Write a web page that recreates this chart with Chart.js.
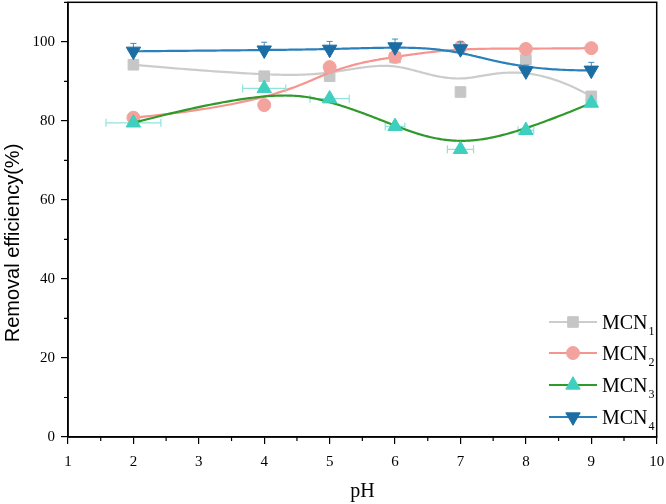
<!DOCTYPE html>
<html>
<head>
<meta charset="utf-8">
<script src="https://cdn.jsdelivr.net/npm/chart.js@4.4.0/dist/chart.umd.min.js"></script>
<style>
  html, body { margin: 0; padding: 0; background: #fff; }
  #outer { position: relative; width: 666px; height: 504px; overflow: hidden; }
  #wrap { position: absolute; left: 0; top: -7px; width: 666px; height: 511px; }
</style>
</head>
<body>
<div id="outer"><div id="wrap"><canvas id="chart"></canvas></div></div>
<script>
// ── Data ─────────────────────────────────────────────────────────────────
const pH     = [2, 4, 5, 6, 7, 8, 9];
const mcn1   = [94.2, 91.3, 91.3, 96.0, 87.3, 95.5, 86.2];
const mcn2   = [80.8, 84.0, 93.6, 96.2, 98.6, 98.2, 98.4];
const mcn3   = [79.5, 88.2, 85.6, 78.6, 72.8, 77.6, 84.5];
const mcn4   = [97.6, 97.9, 98.1, 98.7, 98.2, 92.6, 92.8];
const mcn3XErr = [0.42, 0.33, 0.3, 0.15, 0.2, 0.12, 0.08];
const mcn4YErr = [2, 2, 2, 2, 1.8, 1.5, 2];
const xTicks = [1, 2, 3, 4, 5, 6, 7, 8, 9, 10];
const yTicks = [0, 20, 40, 60, 80, 100];
const seriesNames = ['MCN', 'MCN', 'MCN', 'MCN'];
const seriesSubs  = ['1', '2', '3', '4'];

const SERIF = '"Liberation Serif", "DejaVu Serif", serif';
const SANS  = '"Liberation Sans", Arial, sans-serif';

const styles = [
  { marker: '#c6c6c6', line: '#cccccc', style: 'rect',     r: 7.5, rot: 0 },
  { marker: '#f2a39d', line: '#f7948f', style: 'circle',   r: 6.5, rot: 0 },
  { marker: '#3ecfbe', line: '#2f9a2c', style: 'triangle', r: 8.3, rot: 0 },
  { marker: '#1b6da3', line: '#2a80ba', style: 'triangle', r: 8.3, rot: 180 }
];
const allSeries = [mcn1, mcn2, mcn3, mcn4];

// clamped cubic B-spline through the data pixels (Origin "B-Spline" look)
function bspline(pts, samples) {
  const n = pts.length - 1, p = 3;
  const knots = [];
  for (let i = 0; i <= p; i++) knots.push(0);
  for (let i = 1; i <= n - p; i++) knots.push(i);
  for (let i = 0; i <= p; i++) knots.push(n - p + 1);
  const tmax = n - p + 1;
  const out = [];
  for (let s = 0; s <= samples; s++) {
    const u = tmax * s / samples;
    let k = p;
    while (k < n && u >= knots[k + 1]) k++;
    const d = [];
    for (let j = 0; j <= p; j++) d.push({ x: pts[j + k - p].x, y: pts[j + k - p].y });
    for (let r = 1; r <= p; r++) {
      for (let j = p; j >= r; j--) {
        const den = knots[j + 1 + k - r] - knots[j + k - p];
        const a = den === 0 ? 0 : (u - knots[j + k - p]) / den;
        d[j] = { x: (1 - a) * d[j - 1].x + a * d[j].x, y: (1 - a) * d[j - 1].y + a * d[j].y };
      }
    }
    out.push(d[p]);
  }
  return out;
}

const curvePlugin = {
  id: 'curves',
  beforeDatasetDraw(chart, args) {
    const ctx = chart.ctx, meta = args.meta, i = args.index;
    const xs = chart.scales.x, ys = chart.scales.y;
    ctx.save();
    // error bars
    if (i === 2) {
      ctx.strokeStyle = '#8fe3da'; ctx.lineWidth = 1.2;
      pH.forEach((v, j) => {
        const y = ys.getPixelForValue(mcn3[j]);
        const x0 = xs.getPixelForValue(v - mcn3XErr[j]), x1 = xs.getPixelForValue(v + mcn3XErr[j]);
        ctx.beginPath();
        ctx.moveTo(x0, y); ctx.lineTo(x1, y);
        ctx.moveTo(x0, y - 4); ctx.lineTo(x0, y + 4);
        ctx.moveTo(x1, y - 4); ctx.lineTo(x1, y + 4);
        ctx.stroke();
      });
    }
    if (i === 3) {
      ctx.strokeStyle = '#3b8cc4'; ctx.lineWidth = 1;
      pH.forEach((v, j) => {
        const x = xs.getPixelForValue(v);
        const y0 = ys.getPixelForValue(mcn4[j] + mcn4YErr[j]), y1 = ys.getPixelForValue(mcn4[j] - mcn4YErr[j]);
        ctx.beginPath();
        ctx.moveTo(x, y0); ctx.lineTo(x, y1);
        ctx.moveTo(x - 3, y0); ctx.lineTo(x + 3, y0);
        ctx.stroke();
      });
    }
    const pts = meta.data.map(e => ({ x: e.x, y: e.y }));
    const c = bspline(pts, 240);
    ctx.strokeStyle = styles[i].line; ctx.lineWidth = 2.2;
    ctx.lineJoin = 'round';
    ctx.beginPath();
    c.forEach((p, j) => j ? ctx.lineTo(p.x, p.y) : ctx.moveTo(p.x, p.y));
    ctx.stroke();
    ctx.restore();
  }
};

const framePlugin = {
  id: 'frame',
  afterDraw(chart) {
    const ctx = chart.ctx, a = chart.chartArea;
    const xs = chart.scales.x, ys = chart.scales.y;
    const off = 7; // canvas is shifted up by this much
    ctx.save();
    ctx.strokeStyle = '#000'; ctx.lineWidth = 1.5;
    ctx.strokeRect(a.left, a.top, a.right - a.left, a.bottom - a.top);
    // minor ticks
    ctx.lineWidth = 1.2;
    ctx.beginPath();
    for (let v = 10; v <= 110; v += 20) {
      const y = ys.getPixelForValue(v);
      ctx.moveTo(a.left - 4, y); ctx.lineTo(a.left, y);
    }
    for (let v = 1.5; v < 10; v += 1) {
      const x = xs.getPixelForValue(v);
      ctx.moveTo(x, a.bottom); ctx.lineTo(x, a.bottom + 4);
    }
    ctx.stroke();
    // y title
    ctx.fillStyle = '#000';
    ctx.font = '20px ' + SANS;
    ctx.textAlign = 'center'; ctx.textBaseline = 'middle';
    ctx.translate(13, 243 + off); ctx.rotate(-Math.PI / 2);
    ctx.fillText('Removal efficiency(%)', 0, 0);
    ctx.restore();

    // legend
    ctx.save();
    const lx0 = 549, lx1 = 597, tx = 602;
    const ly = [322, 353, 385, 417];
    styles.forEach((s, i) => {
      const y = ly[i] + off;
      ctx.strokeStyle = s.line; ctx.lineWidth = 2.2;
      ctx.beginPath(); ctx.moveTo(lx0, y); ctx.lineTo(lx1, y); ctx.stroke();
      ctx.fillStyle = s.marker; ctx.strokeStyle = s.marker; ctx.lineWidth = 1;
      Chart.helpers.drawPoint(ctx, { pointStyle: s.style, radius: s.r, rotation: s.rot, borderWidth: 1 }, (lx0 + lx1) / 2, y);
      ctx.fillStyle = '#000';
      ctx.textAlign = 'left'; ctx.textBaseline = 'alphabetic';
      ctx.font = '20px ' + SERIF;
      ctx.fillText(seriesNames[i], tx, y + 7);
      const w = ctx.measureText(seriesNames[i]).width;
      ctx.font = '12px ' + SERIF;
      ctx.fillText(seriesSubs[i], tx + w + 1, y + 13);
    });
    ctx.restore();
  }
};

new Chart(document.getElementById('chart'), {
  type: 'line',
  data: {
    datasets: allSeries.map((d, i) => ({
      label: seriesNames[i] + seriesSubs[i],
      data: pH.map((x, j) => ({ x, y: d[j] })),
      showLine: false,
      order: 4 - i,
      pointStyle: styles[i].style,
      pointRotation: styles[i].rot,
      pointRadius: styles[i].r,
      pointBackgroundColor: styles[i].marker,
      pointBorderColor: styles[i].marker,
      pointBorderWidth: 1
    }))
  },
  options: {
    responsive: true, maintainAspectRatio: false, animation: false,
    layout: { padding: { top: 2, right: 9, left: 0, bottom: 0 } },
    plugins: { legend: { display: false }, tooltip: { enabled: false } },
    scales: {
      x: {
        type: 'linear', min: 1, max: 10,
        afterBuildTicks: s => { s.ticks = xTicks.map(v => ({ value: v })); },
        afterFit: s => { s.height = 67; s.paddingLeft = 0; s.paddingRight = 0; },
        grid: { display: true, drawOnChartArea: false, drawTicks: true, tickLength: 7, color: '#000', lineWidth: 1.2 },
        border: { display: true, color: '#000', width: 1.5 },
        ticks: { color: '#000', padding: 9, maxRotation: 0, font: { family: SERIF, size: 15 } },
        title: { display: true, text: 'pH', color: '#000', padding: { top: 4, bottom: 0 }, font: { family: SERIF, size: 20 } }
      },
      y: {
        min: 0, max: 110,
        afterBuildTicks: s => { s.ticks = yTicks.map(v => ({ value: v })); },
        afterFit: s => { s.width = 68; s.paddingTop = 0; s.paddingBottom = 0; },
        grid: { display: true, drawOnChartArea: false, drawTicks: true, tickLength: 7, color: '#000', lineWidth: 1.2 },
        border: { display: true, color: '#000', width: 1.5 },
        ticks: { color: '#000', padding: 6, font: { family: SERIF, size: 15 } }
      }
    }
  },
  plugins: [curvePlugin, framePlugin]
});
</script>
</body>
</html>
